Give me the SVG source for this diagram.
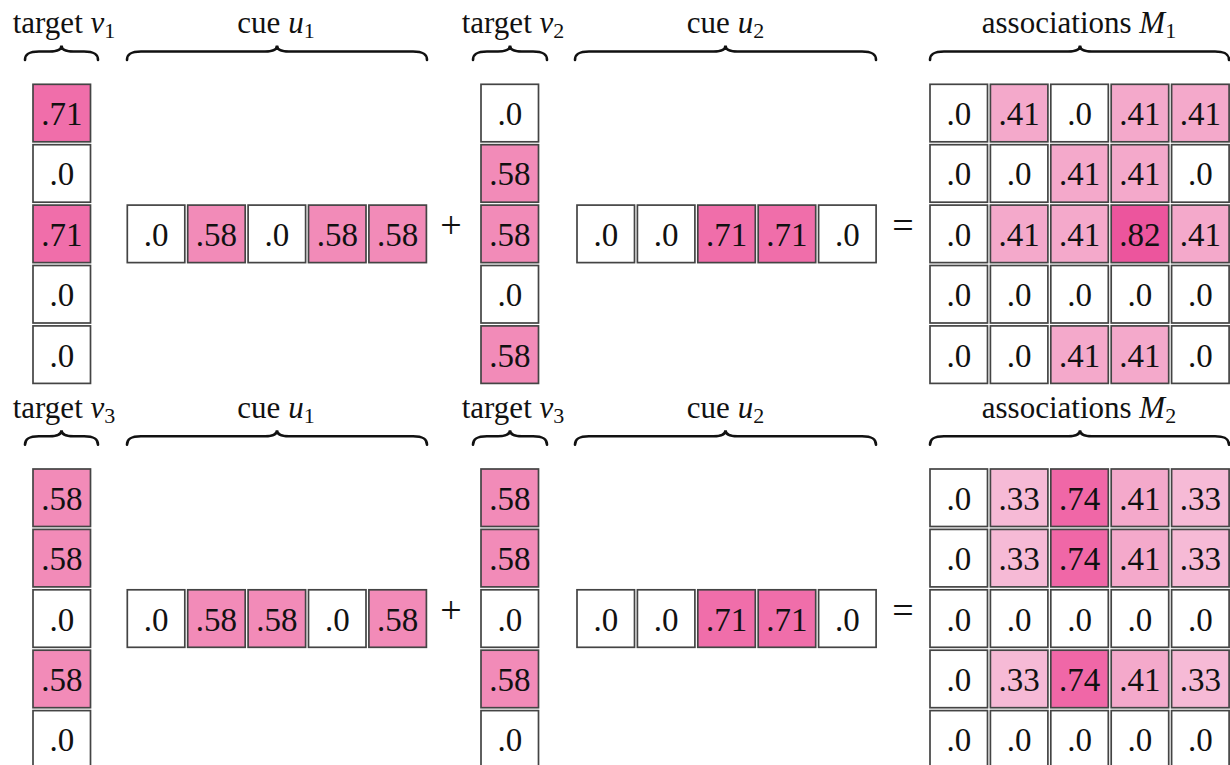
<svg xmlns="http://www.w3.org/2000/svg" width="1230" height="765" viewBox="0 0 1230 765">
<style>
rect{stroke:#444;stroke-width:1.7}
.c0{fill:#ffffff}.c33{fill:#f6bad6}.c41{fill:#f4a9cb}.c58{fill:#f28bb8}.c71{fill:#f06eaa}.c74{fill:#f067a7}.c82{fill:#ec559d}
text{font-family:'Liberation Serif','Tinos','Times New Roman','Nimbus Roman','DejaVu Serif',serif;fill:#111}
.n{font-size:33px;text-anchor:middle}
.lab{font-size:31px;text-anchor:middle}
.it{font-style:italic}
.sub{font-size:22px}
.op{font-size:38px;text-anchor:middle}
use{fill:none;stroke:#111;stroke-width:2.6;stroke-linecap:round}
</style>
<defs>
<path id="b-v1" d="M25,60 C25,54 29,51.5 39,51.5 L49.5,51.5 C57.5,51.5 61.5,49 61.5,45.5 C61.5,49 65.5,51.5 73.5,51.5 L84,51.5 C94,51.5 98,54 98,60"/>
<path id="b-u1" d="M127,60 C127,54 131,51.5 141,51.5 L265,51.5 C273,51.5 277,49 277,45.5 C277,49 281,51.5 289,51.5 L413,51.5 C423,51.5 427,54 427,60"/>
<path id="b-v2" d="M473,60 C473,54 477,51.5 487,51.5 L498,51.5 C506,51.5 510,49 510,45.5 C510,49 514,51.5 522,51.5 L533,51.5 C543,51.5 547,54 547,60"/>
<path id="b-u2" d="M575,60 C575,54 579,51.5 589,51.5 L713.5,51.5 C721.5,51.5 725.5,49 725.5,45.5 C725.5,49 729.5,51.5 737.5,51.5 L862,51.5 C872,51.5 876,54 876,60"/>
<path id="b-m" d="M930,60 C930,54 934,51.5 944,51.5 L1068,51.5 C1076,51.5 1080,49 1080,45.5 C1080,49 1084,51.5 1092,51.5 L1215,51.5 C1225,51.5 1229,54 1229,60"/>
</defs>

<g id="connectors">
<use href="#b-v1"/><use href="#b-u1"/><use href="#b-v2"/><use href="#b-u2"/><use href="#b-m"/>
<g transform="translate(0,384.7)"><use href="#b-v1"/><use href="#b-u1"/><use href="#b-v2"/><use href="#b-u2"/><use href="#b-m"/></g>
</g>

<g id="labels-top">
<text class="lab" x="64" y="33">target <tspan class="it">v</tspan><tspan class="sub" dy="5">1</tspan></text>
<text class="lab" x="276" y="33">cue <tspan class="it">u</tspan><tspan class="sub" dy="5">1</tspan></text>
<text class="lab" x="513" y="33">target <tspan class="it">v</tspan><tspan class="sub" dy="5">2</tspan></text>
<text class="lab" x="725.5" y="33">cue <tspan class="it">u</tspan><tspan class="sub" dy="5">2</tspan></text>
<text class="lab" x="1079" y="33">associations <tspan class="it">M</tspan><tspan class="sub" dy="5">1</tspan></text>
</g>
<g id="labels-bottom">
<text class="lab" x="64" y="417.7">target <tspan class="it">v</tspan><tspan class="sub" dy="5">3</tspan></text>
<text class="lab" x="276" y="417.7">cue <tspan class="it">u</tspan><tspan class="sub" dy="5">1</tspan></text>
<text class="lab" x="513" y="417.7">target <tspan class="it">v</tspan><tspan class="sub" dy="5">3</tspan></text>
<text class="lab" x="725.5" y="417.7">cue <tspan class="it">u</tspan><tspan class="sub" dy="5">2</tspan></text>
<text class="lab" x="1079" y="417.7">associations <tspan class="it">M</tspan><tspan class="sub" dy="5">2</tspan></text>
</g>

<g id="ops">
<text class="op" x="451" y="238">+</text>
<text class="op" x="903" y="238">=</text>
<text class="op" x="451" y="622.7">+</text>
<text class="op" x="903" y="622.7">=</text>
</g>

<!-- TOP BLOCK -->
<g id="target-v1">
<rect class="c71" x="33" y="84.3" width="57.5" height="57.5"/><text class="n" x="61.75" y="125">.71</text>
<rect class="c0" x="33" y="144.7" width="57.5" height="57.5"/><text class="n" x="61.75" y="185.4">.0</text>
<rect class="c71" x="33" y="205.1" width="57.5" height="57.5"/><text class="n" x="61.75" y="245.8">.71</text>
<rect class="c0" x="33" y="265.5" width="57.5" height="57.5"/><text class="n" x="61.75" y="306.2">.0</text>
<rect class="c0" x="33" y="325.9" width="57.5" height="57.5"/><text class="n" x="61.75" y="366.6">.0</text>
</g>
<g id="cue-u1-top">
<rect class="c0" x="127.3" y="205.1" width="57.5" height="57.5"/><text class="n" x="156.05" y="245.8">.0</text>
<rect class="c58" x="187.7" y="205.1" width="57.5" height="57.5"/><text class="n" x="216.45" y="245.8">.58</text>
<rect class="c0" x="248.1" y="205.1" width="57.5" height="57.5"/><text class="n" x="276.85" y="245.8">.0</text>
<rect class="c58" x="308.5" y="205.1" width="57.5" height="57.5"/><text class="n" x="337.25" y="245.8">.58</text>
<rect class="c58" x="368.9" y="205.1" width="57.5" height="57.5"/><text class="n" x="397.65" y="245.8">.58</text>
</g>
<g id="target-v2">
<rect class="c0" x="481" y="84.3" width="57.5" height="57.5"/><text class="n" x="509.75" y="125">.0</text>
<rect class="c58" x="481" y="144.7" width="57.5" height="57.5"/><text class="n" x="509.75" y="185.4">.58</text>
<rect class="c58" x="481" y="205.1" width="57.5" height="57.5"/><text class="n" x="509.75" y="245.8">.58</text>
<rect class="c0" x="481" y="265.5" width="57.5" height="57.5"/><text class="n" x="509.75" y="306.2">.0</text>
<rect class="c58" x="481" y="325.9" width="57.5" height="57.5"/><text class="n" x="509.75" y="366.6">.58</text>
</g>
<g id="cue-u2-top">
<rect class="c0" x="577" y="205.1" width="57.5" height="57.5"/><text class="n" x="605.75" y="245.8">.0</text>
<rect class="c0" x="637.4" y="205.1" width="57.5" height="57.5"/><text class="n" x="666.15" y="245.8">.0</text>
<rect class="c71" x="697.8" y="205.1" width="57.5" height="57.5"/><text class="n" x="726.55" y="245.8">.71</text>
<rect class="c71" x="758.2" y="205.1" width="57.5" height="57.5"/><text class="n" x="786.95" y="245.8">.71</text>
<rect class="c0" x="818.6" y="205.1" width="57.5" height="57.5"/><text class="n" x="847.35" y="245.8">.0</text>
</g>
<g id="matrix-M1">
<rect class="c0" x="930" y="84.3" width="57.5" height="57.5"/><text class="n" x="958.75" y="125">.0</text>
<rect class="c41" x="990.4" y="84.3" width="57.5" height="57.5"/><text class="n" x="1019.15" y="125">.41</text>
<rect class="c0" x="1050.8" y="84.3" width="57.5" height="57.5"/><text class="n" x="1079.55" y="125">.0</text>
<rect class="c41" x="1111.2" y="84.3" width="57.5" height="57.5"/><text class="n" x="1139.95" y="125">.41</text>
<rect class="c41" x="1171.6" y="84.3" width="57.5" height="57.5"/><text class="n" x="1200.35" y="125">.41</text>

<rect class="c0" x="930" y="144.7" width="57.5" height="57.5"/><text class="n" x="958.75" y="185.4">.0</text>
<rect class="c0" x="990.4" y="144.7" width="57.5" height="57.5"/><text class="n" x="1019.15" y="185.4">.0</text>
<rect class="c41" x="1050.8" y="144.7" width="57.5" height="57.5"/><text class="n" x="1079.55" y="185.4">.41</text>
<rect class="c41" x="1111.2" y="144.7" width="57.5" height="57.5"/><text class="n" x="1139.95" y="185.4">.41</text>
<rect class="c0" x="1171.6" y="144.7" width="57.5" height="57.5"/><text class="n" x="1200.35" y="185.4">.0</text>

<rect class="c0" x="930" y="205.1" width="57.5" height="57.5"/><text class="n" x="958.75" y="245.8">.0</text>
<rect class="c41" x="990.4" y="205.1" width="57.5" height="57.5"/><text class="n" x="1019.15" y="245.8">.41</text>
<rect class="c41" x="1050.8" y="205.1" width="57.5" height="57.5"/><text class="n" x="1079.55" y="245.8">.41</text>
<rect class="c82" x="1111.2" y="205.1" width="57.5" height="57.5"/><text class="n" x="1139.95" y="245.8">.82</text>
<rect class="c41" x="1171.6" y="205.1" width="57.5" height="57.5"/><text class="n" x="1200.35" y="245.8">.41</text>

<rect class="c0" x="930" y="265.5" width="57.5" height="57.5"/><text class="n" x="958.75" y="306.2">.0</text>
<rect class="c0" x="990.4" y="265.5" width="57.5" height="57.5"/><text class="n" x="1019.15" y="306.2">.0</text>
<rect class="c0" x="1050.8" y="265.5" width="57.5" height="57.5"/><text class="n" x="1079.55" y="306.2">.0</text>
<rect class="c0" x="1111.2" y="265.5" width="57.5" height="57.5"/><text class="n" x="1139.95" y="306.2">.0</text>
<rect class="c0" x="1171.6" y="265.5" width="57.5" height="57.5"/><text class="n" x="1200.35" y="306.2">.0</text>

<rect class="c0" x="930" y="325.9" width="57.5" height="57.5"/><text class="n" x="958.75" y="366.6">.0</text>
<rect class="c0" x="990.4" y="325.9" width="57.5" height="57.5"/><text class="n" x="1019.15" y="366.6">.0</text>
<rect class="c41" x="1050.8" y="325.9" width="57.5" height="57.5"/><text class="n" x="1079.55" y="366.6">.41</text>
<rect class="c41" x="1111.2" y="325.9" width="57.5" height="57.5"/><text class="n" x="1139.95" y="366.6">.41</text>
<rect class="c0" x="1171.6" y="325.9" width="57.5" height="57.5"/><text class="n" x="1200.35" y="366.6">.0</text>
</g>

<!-- BOTTOM BLOCK -->
<g id="target-v3-a">
<rect class="c58" x="33" y="469" width="57.5" height="57.5"/><text class="n" x="61.75" y="509.7">.58</text>
<rect class="c58" x="33" y="529.4" width="57.5" height="57.5"/><text class="n" x="61.75" y="570.1">.58</text>
<rect class="c0" x="33" y="589.8" width="57.5" height="57.5"/><text class="n" x="61.75" y="630.5">.0</text>
<rect class="c58" x="33" y="650.2" width="57.5" height="57.5"/><text class="n" x="61.75" y="690.9">.58</text>
<rect class="c0" x="33" y="710.6" width="57.5" height="57.5"/><text class="n" x="61.75" y="751.3">.0</text>
</g>
<g id="cue-u1-bottom">
<rect class="c0" x="127.3" y="589.8" width="57.5" height="57.5"/><text class="n" x="156.05" y="630.5">.0</text>
<rect class="c58" x="187.7" y="589.8" width="57.5" height="57.5"/><text class="n" x="216.45" y="630.5">.58</text>
<rect class="c58" x="248.1" y="589.8" width="57.5" height="57.5"/><text class="n" x="276.85" y="630.5">.58</text>
<rect class="c0" x="308.5" y="589.8" width="57.5" height="57.5"/><text class="n" x="337.25" y="630.5">.0</text>
<rect class="c58" x="368.9" y="589.8" width="57.5" height="57.5"/><text class="n" x="397.65" y="630.5">.58</text>
</g>
<g id="target-v3-b">
<rect class="c58" x="481" y="469" width="57.5" height="57.5"/><text class="n" x="509.75" y="509.7">.58</text>
<rect class="c58" x="481" y="529.4" width="57.5" height="57.5"/><text class="n" x="509.75" y="570.1">.58</text>
<rect class="c0" x="481" y="589.8" width="57.5" height="57.5"/><text class="n" x="509.75" y="630.5">.0</text>
<rect class="c58" x="481" y="650.2" width="57.5" height="57.5"/><text class="n" x="509.75" y="690.9">.58</text>
<rect class="c0" x="481" y="710.6" width="57.5" height="57.5"/><text class="n" x="509.75" y="751.3">.0</text>
</g>
<g id="cue-u2-bottom">
<rect class="c0" x="577" y="589.8" width="57.5" height="57.5"/><text class="n" x="605.75" y="630.5">.0</text>
<rect class="c0" x="637.4" y="589.8" width="57.5" height="57.5"/><text class="n" x="666.15" y="630.5">.0</text>
<rect class="c71" x="697.8" y="589.8" width="57.5" height="57.5"/><text class="n" x="726.55" y="630.5">.71</text>
<rect class="c71" x="758.2" y="589.8" width="57.5" height="57.5"/><text class="n" x="786.95" y="630.5">.71</text>
<rect class="c0" x="818.6" y="589.8" width="57.5" height="57.5"/><text class="n" x="847.35" y="630.5">.0</text>
</g>
<g id="matrix-M2">
<rect class="c0" x="930" y="469" width="57.5" height="57.5"/><text class="n" x="958.75" y="509.7">.0</text>
<rect class="c33" x="990.4" y="469" width="57.5" height="57.5"/><text class="n" x="1019.15" y="509.7">.33</text>
<rect class="c74" x="1050.8" y="469" width="57.5" height="57.5"/><text class="n" x="1079.55" y="509.7">.74</text>
<rect class="c41" x="1111.2" y="469" width="57.5" height="57.5"/><text class="n" x="1139.95" y="509.7">.41</text>
<rect class="c33" x="1171.6" y="469" width="57.5" height="57.5"/><text class="n" x="1200.35" y="509.7">.33</text>

<rect class="c0" x="930" y="529.4" width="57.5" height="57.5"/><text class="n" x="958.75" y="570.1">.0</text>
<rect class="c33" x="990.4" y="529.4" width="57.5" height="57.5"/><text class="n" x="1019.15" y="570.1">.33</text>
<rect class="c74" x="1050.8" y="529.4" width="57.5" height="57.5"/><text class="n" x="1079.55" y="570.1">.74</text>
<rect class="c41" x="1111.2" y="529.4" width="57.5" height="57.5"/><text class="n" x="1139.95" y="570.1">.41</text>
<rect class="c33" x="1171.6" y="529.4" width="57.5" height="57.5"/><text class="n" x="1200.35" y="570.1">.33</text>

<rect class="c0" x="930" y="589.8" width="57.5" height="57.5"/><text class="n" x="958.75" y="630.5">.0</text>
<rect class="c0" x="990.4" y="589.8" width="57.5" height="57.5"/><text class="n" x="1019.15" y="630.5">.0</text>
<rect class="c0" x="1050.8" y="589.8" width="57.5" height="57.5"/><text class="n" x="1079.55" y="630.5">.0</text>
<rect class="c0" x="1111.2" y="589.8" width="57.5" height="57.5"/><text class="n" x="1139.95" y="630.5">.0</text>
<rect class="c0" x="1171.6" y="589.8" width="57.5" height="57.5"/><text class="n" x="1200.35" y="630.5">.0</text>

<rect class="c0" x="930" y="650.2" width="57.5" height="57.5"/><text class="n" x="958.75" y="690.9">.0</text>
<rect class="c33" x="990.4" y="650.2" width="57.5" height="57.5"/><text class="n" x="1019.15" y="690.9">.33</text>
<rect class="c74" x="1050.8" y="650.2" width="57.5" height="57.5"/><text class="n" x="1079.55" y="690.9">.74</text>
<rect class="c41" x="1111.2" y="650.2" width="57.5" height="57.5"/><text class="n" x="1139.95" y="690.9">.41</text>
<rect class="c33" x="1171.6" y="650.2" width="57.5" height="57.5"/><text class="n" x="1200.35" y="690.9">.33</text>

<rect class="c0" x="930" y="710.6" width="57.5" height="57.5"/><text class="n" x="958.75" y="751.3">.0</text>
<rect class="c0" x="990.4" y="710.6" width="57.5" height="57.5"/><text class="n" x="1019.15" y="751.3">.0</text>
<rect class="c0" x="1050.8" y="710.6" width="57.5" height="57.5"/><text class="n" x="1079.55" y="751.3">.0</text>
<rect class="c0" x="1111.2" y="710.6" width="57.5" height="57.5"/><text class="n" x="1139.95" y="751.3">.0</text>
<rect class="c0" x="1171.6" y="710.6" width="57.5" height="57.5"/><text class="n" x="1200.35" y="751.3">.0</text>
</g>
</svg>
